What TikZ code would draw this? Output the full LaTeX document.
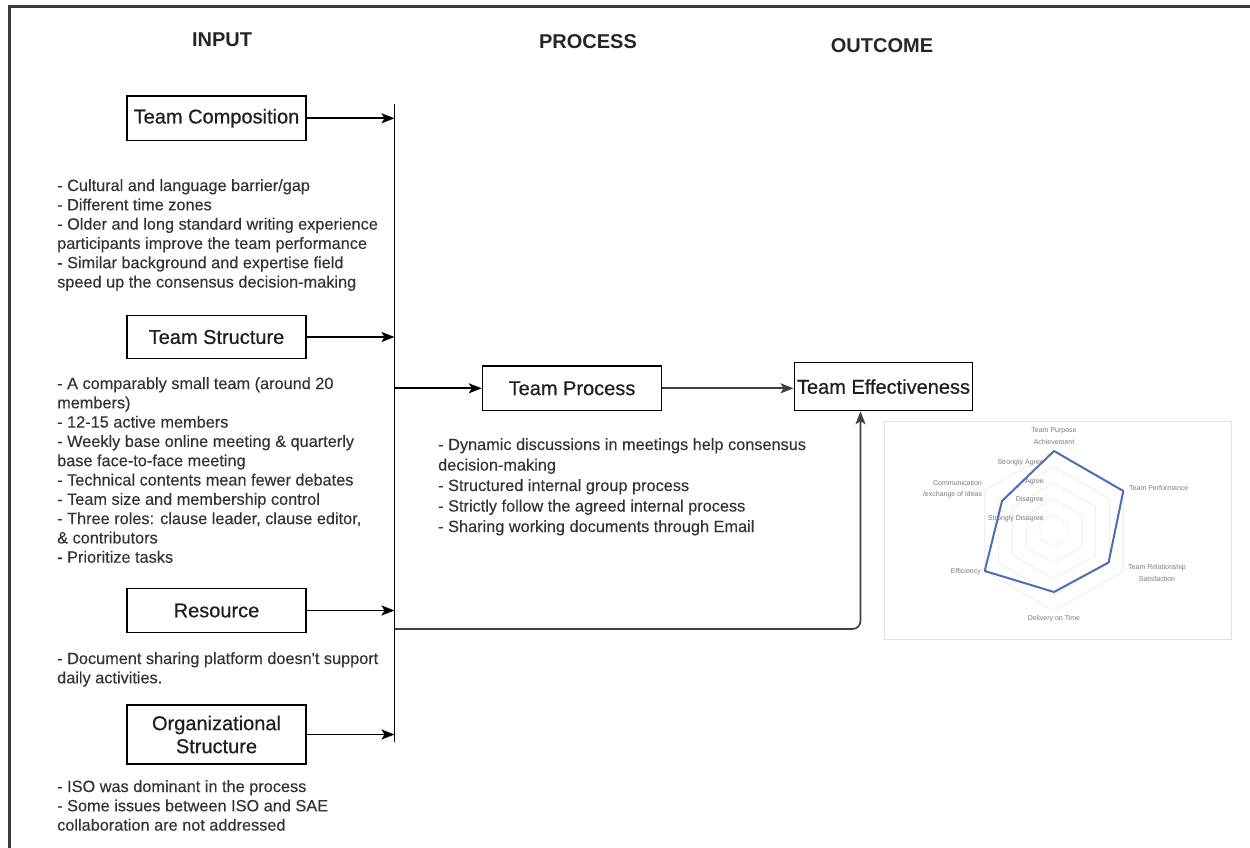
\documentclass[tikz,border=0pt]{standalone}
\usepackage{fontspec}
\setmainfont{Liberation Sans}
\newfontfamily\boxfont[FakeBold=0.6]{Liberation Sans}
\newfontfamily\notefont[FakeBold=0.25]{Liberation Sans}
\usetikzlibrary{arrows.meta,calc}

\definecolor{txt}{HTML}{333333}
\definecolor{framec}{HTML}{3A3A3A}
\definecolor{series}{HTML}{4A6FB5}
\definecolor{gridc}{HTML}{ECE8E0}
\definecolor{chartborder}{HTML}{E0E0E0}
\definecolor{axislbl}{HTML}{7A7A7A}

\begin{document}
\begin{tikzpicture}[x=1pt,y=-1pt,
  block/.style={draw=black, line width=1.5pt, fill=white, minimum width=179pt,
    text=black!88, font=\boxfont\fontsize{20}{23}\selectfont, align=center, inner sep=0pt},
  heading/.style={font=\bfseries\fontsize{20}{23}\selectfont, text=black!85, inner sep=0pt},
  notes/.style={anchor=north west, inner sep=0pt, align=left, text=txt,
    font=\notefont\fontsize{16.3}{19.3}\selectfont},
  link/.style={line width=1.7pt, -{Stealth[length=13pt,width=10pt,inset=3pt]}},
  wire/.style={line width=1.7pt},
  chartlbl/.style={font=\fontsize{7}{11.5}\selectfont, text=axislbl, inner sep=0pt}
]
\useasboundingbox (0,0) rectangle (1250,848);

% outer frame (top and left edges)
\draw[framec, line width=3pt] (9,848) -- (9,6.5) -- (1250,6.5);

% column headings
\node[heading] (hin)  at (222,40) {INPUT};
\node[heading] (hpro) at (588,42) {PROCESS};
\node[heading] (hout) at (882,46) {OUTCOME};

% input factors
\node[block, minimum height=44.7pt] (comp)   at (216.5,118.3) {Team Composition};
\node[block, minimum height=43pt]   (struct) at (216.5,337)   {Team Structure};
\node[block, minimum height=44.4pt] (res)    at (216.5,610.5) {Resource};
\node[block, minimum height=59pt]   (org)    at (216.5,734.5) {Organizational\\Structure};

% process and outcome
\node[block, minimum height=44.7pt] (proc) at (572,388.3) {Team Process};
\node[block, minimum width=178.4pt, minimum height=47.8pt] (eff) at (883.5,386.6) {Team Effectiveness};

% notes under each factor
\node[notes] (ncomp) at (57,179) {- Cultural and language barrier/gap\\
- Different time zones\\
- Older and long standard writing experience\\
participants improve the team performance\\
- Similar background and expertise field\\
speed up the consensus decision-making};

\node[notes] (nstruct) at (57,377) {- A comparably small team (around 20\\
members)\\
- 12-15 active members\\
- Weekly base online meeting \& quarterly\\
base face-to-face meeting\\
- Technical contents mean fewer debates\\
- Team size and membership control\\
- Three roles: clause leader, clause editor,\\
\& contributors\\
- Prioritize tasks};

\node[notes] (nres) at (57,652) {- Document sharing platform doesn't support\\
daily activities.};

\node[notes] (norg) at (57,780) {- ISO was dominant in the process\\
- Some issues between ISO and SAE\\
collaboration are not addressed};

\node[notes, font=\notefont\fontsize{16.3}{20.5}\selectfont] (nproc) at (438,438) {- Dynamic discussions in meetings help consensus\\
decision-making\\
- Structured internal group process\\
- Strictly follow the agreed internal process\\
- Sharing working documents through Email};

% collecting bus
\coordinate (bt) at (394.5,104);
\coordinate (bb) at (394.5,742);
\coordinate (tap) at (394.5,629);
\draw[wire] (bt) -- (bb);

\draw[link] (comp.east)   -- (comp.east -| bt);
\draw[link] (struct.east) -- (struct.east -| bt);
\draw[link] (res.east)    -- (res.east -| bt);
\draw[link] (org.east)    -- (org.east -| bt);

\draw[link] (bt |- proc.west) -- (proc.west);
\draw[link, draw=black!75] (proc.east) -- (proc.east -| eff.west);
\draw[link, draw=black!75, rounded corners=8pt] (tap) -| ([xshift=-23pt]eff.south);

% radar chart of team effectiveness
\draw[chartborder, line width=0.8pt, fill=white] (884,421) rectangle (1231,639);
\begin{scope}[shift={(1054,531)}]
  \foreach \r in {16,32,48,64,80}
    \draw[gridc, line width=0.6pt] (90:\r pt) -- (30:\r pt) -- (-30:\r pt)
      -- (-90:\r pt) -- (210:\r pt) -- (150:\r pt) -- cycle;
  \draw[series, line width=2pt, line join=round]
    (90:80pt) -- (30:80pt) -- (-30:63pt) -- (-90:61pt) -- (210:80pt) -- (150:60pt) -- cycle;
  \node[chartlbl, anchor=east] (lv4) at (-10pt,68pt) {Strongly Agree};
  \node[chartlbl, anchor=east] (lv3) at (-10pt,49pt) {Agree};
  \node[chartlbl, anchor=east] (lv2) at (-10pt,31pt) {Disagree};
  \node[chartlbl, anchor=east] (lv1) at (-10pt,12pt) {Strongly Disagree};
  \node[chartlbl, align=center] (ax1) at (0pt,95pt) {Team Purpose\\Achievement};
  \node[chartlbl, anchor=west] (ax2) at (75pt,43pt) {Team Performance};
  \node[chartlbl, align=center] (ax3) at (103pt,-42pt) {Team Relationship\\Satisfaction};
  \node[chartlbl] (ax4) at (0pt,-88pt) {Delivery on Time};
  \node[chartlbl, anchor=east] (ax5) at (-73pt,-41pt) {Efficiency};
  \node[chartlbl, anchor=east, align=right] (ax6) at (-72pt,42pt) {Communication\\/exchange of ideas};
\end{scope}
\end{tikzpicture}
\end{document}
